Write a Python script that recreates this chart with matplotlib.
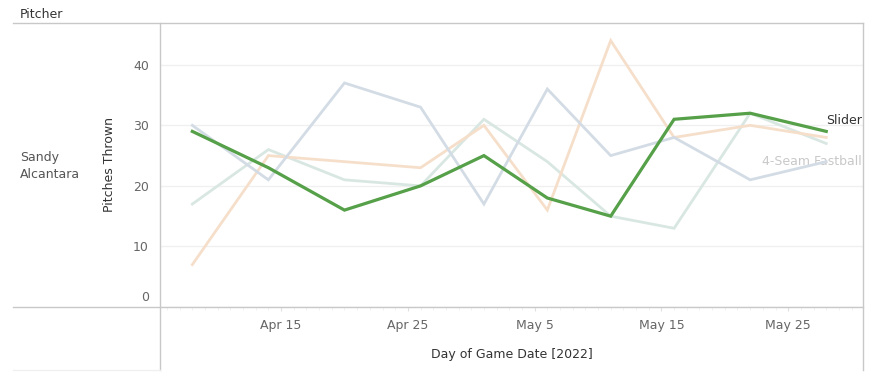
import matplotlib
matplotlib.use("Agg")
import matplotlib.pyplot as plt
import matplotlib.dates as mdates
from matplotlib.lines import Line2D
from matplotlib.transforms import offset_copy
from datetime import datetime

# game dates (Sandy Alcantara starts, 2022)
game_dates = ["2022-04-08", "2022-04-14", "2022-04-20", "2022-04-26", "2022-05-01",
              "2022-05-06", "2022-05-11", "2022-05-16", "2022-05-22", "2022-05-28"]

slider = [29, 23, 16, 20, 25, 18, 15, 31, 32, 29]
four_seam = [30, 21, 37, 33, 17, 36, 25, 28, 21, 24]
changeup = [7, 25, 24, 23, 30, 16, 44, 28, 30, 28]
sinker = [17, 26, 21, 20, 31, 24, 15, 13, 32, 27]

x_tick_dates = ["2022-04-15", "2022-04-25", "2022-05-05", "2022-05-15", "2022-05-25"]
x_tick_labels = ["Apr 15", "Apr 25", "May 5", "May 15", "May 25"]
y_ticks = [0, 10, 20, 30, 40]

W, H = 875, 380
plt.rcParams['font.family'] = ['DejaVu Sans']

fig = plt.figure(figsize=(W / 100, H / 100), dpi=100)
fig.patch.set_facecolor("white")

def px(x0, y0, x1, y1):
    # pixel box (top-left origin) -> figure fraction rect
    return [x0 / W, 1 - y1 / H, (x1 - x0) / W, (y1 - y0) / H]

ax = fig.add_axes(px(160, 23, 863, 307))

dates = [datetime.strptime(d, "%Y-%m-%d") for d in game_dates]

ax.plot(dates, sinker, color="#d9e7e2", lw=2.0, solid_joinstyle="miter", zorder=2)
ax.plot(dates, changeup, color="#f6dfca", lw=2.0, solid_joinstyle="miter", zorder=3)
ax.plot(dates, four_seam, color="#d3dce5", lw=2.0, solid_joinstyle="miter", zorder=4)
ax.plot(dates, slider, color="#55a048", lw=2.3, solid_joinstyle="miter", zorder=5)

ax.set_xlim(mdates.date2num(datetime(2022, 4, 5)) + 0.45,
            mdates.date2num(datetime(2022, 5, 30)) + 0.9)
ax.set_ylim(0, 46.9)

ax.set_xticks([datetime.strptime(d, "%Y-%m-%d") for d in x_tick_dates])
ax.set_xticklabels(x_tick_labels)
ax.xaxis.set_minor_locator(mdates.DayLocator())
ax.tick_params(axis="x", which="major", length=3, color="#e0e0e0", labelsize=9,
               labelcolor="#666666", pad=6)
ax.tick_params(axis="x", which="minor", length=2, color="#f0f0f0")

ax.set_yticks(y_ticks)
ax.tick_params(axis="y", length=0, labelsize=9, labelcolor="#666666", pad=8)
lbl0 = ax.get_yticklabels()[0]
lbl0.set_transform(offset_copy(lbl0.get_transform(), fig=fig, y=11, units="dots"))

ax.grid(axis="y", color="#f0f0f0", lw=1)
ax.set_axisbelow(True)
for s in ax.spines.values():
    s.set_visible(False)

# end-of-line labels
ax.annotate("Slider", xy=(1, slider[-1]), xycoords=ax.get_yaxis_transform(),
            xytext=(-1, 11), textcoords="offset pixels", ha="right", va="center",
            fontsize=9, color="#333333")
ax.annotate("4-Seam Fastball", xy=(1, four_seam[-1]), xycoords=ax.get_yaxis_transform(),
            xytext=(-1, 0), textcoords="offset pixels", ha="right", va="center",
            fontsize=9, color="#c8c8c8")

ax.set_xlabel("Day of Game Date [2022]", fontsize=9, color="#333333", labelpad=11)
ax.set_ylabel("Pitches Thrown", fontsize=9, color="#333333", labelpad=12)

# table frame lines (pixel coordinates)
def fline(x0, y0, x1, y1, color="#c8c8c8", lw=1):
    fig.add_artist(Line2D([x0 / W, x1 / W], [1 - y0 / H, 1 - y1 / H],
                          transform=fig.transFigure, color=color, lw=lw))

fline(13, 23, 863, 23)
fline(13, 307, 863, 307)
fline(160, 23, 160, 370)
fline(863, 23, 863, 370)
fline(13, 370, 160, 370, color="#f0f0f0")

fig.text(20 / W, 1 - 14 / H, "Pitcher", fontsize=9, color="#333333", va="center")
fig.text(20 / W, 1 - 166 / H, "Sandy\nAlcantara", fontsize=9, color="#555555",
         va="center", linespacing=1.5)

fig.savefig("out.png", dpi=100)
